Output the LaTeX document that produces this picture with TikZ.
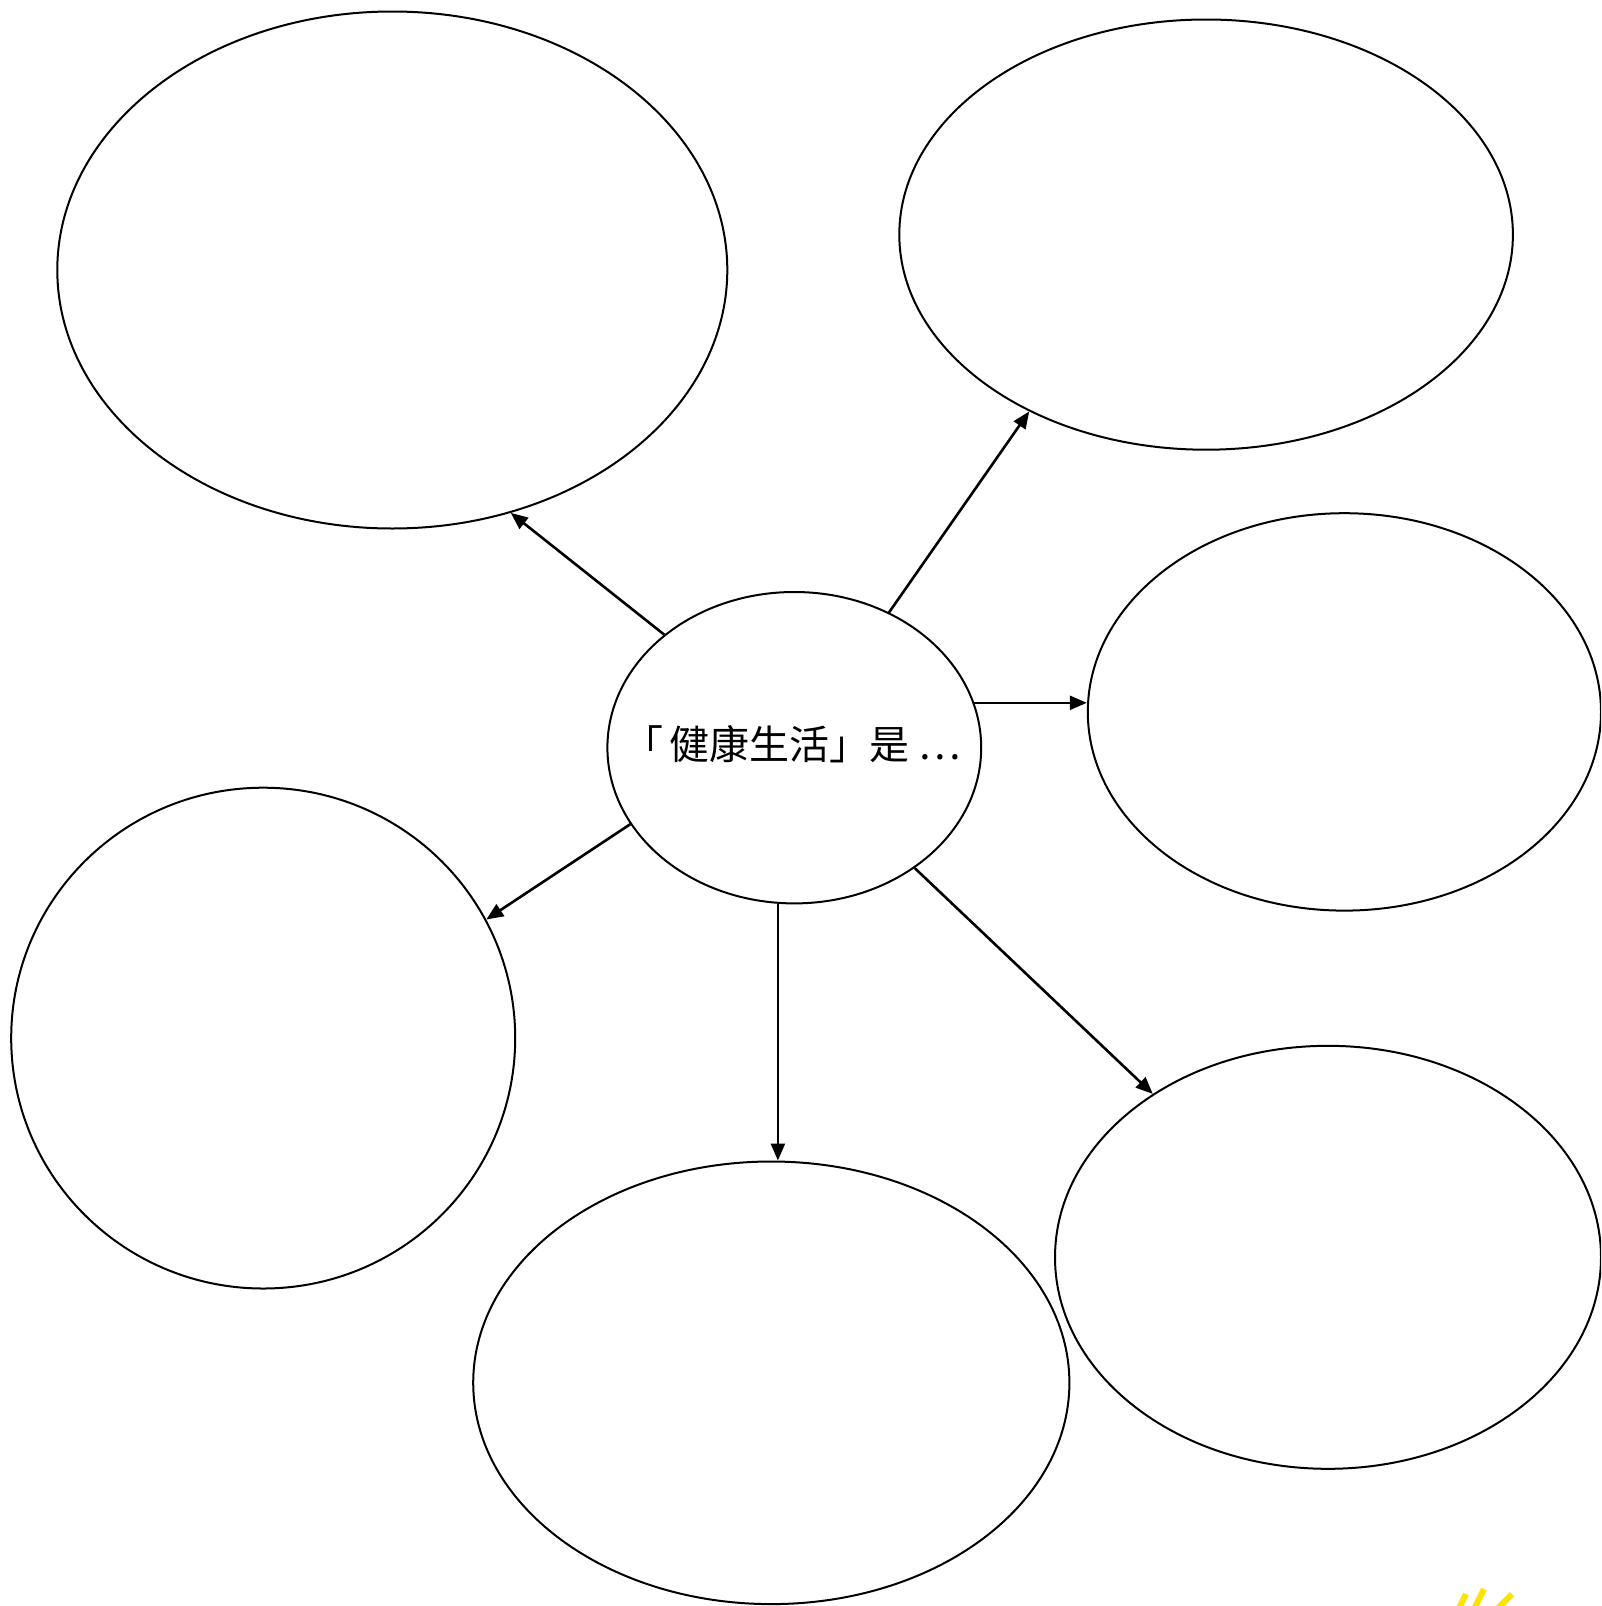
\documentclass[tikz,border=0pt]{standalone}
\usepackage{fontspec}
\newfontfamily\cjk{Noto Sans CJK TC}
\usetikzlibrary{shapes.geometric,arrows.meta}
\definecolor{markyellow}{RGB}{250,228,0}
\begin{document}
\begin{tikzpicture}[x=1pt,y=-1pt,
  bubble/.style={draw=black,line width=2pt,ellipse,inner sep=0pt},
  link/.style={draw=black,line width=2.6pt,-{Triangle[length=17pt,width=14pt]}}]
\useasboundingbox (0,0) rectangle (1601,1606);
\clip (0,0) rectangle (1601,1606);
\node[bubble,minimum width=670pt,minimum height=517pt] (tl) at (392.3,270) {};
\node[bubble,minimum width=613.6pt,minimum height=430.2pt] (tr) at (1206.1,234.6) {};
\node[bubble,minimum width=513.2pt,minimum height=397.4pt] (r) at (1344.4,711.9) {};
\node[bubble,minimum width=373.8pt,minimum height=311.4pt] (c) at (794.3,747.7) {};
\node[bubble,minimum width=504pt,minimum height=500.8pt] (l) at (263.2,1038.1) {};
\node[bubble,minimum width=596.2pt,minimum height=442.6pt] (b) at (771.3,1382.8) {};
\node[bubble,minimum width=546pt,minimum height=423pt] (br) at (1328,1257.3) {};
\node[font=\cjk\fontsize{40}{44}\selectfont,inner sep=0pt] (t) at (792,744) {「\,健康生活」是 …};
\draw[link] (c.139.2) -- (tl.296.9);
\draw[link] (c.55.6) -- (tr.225.6);
\draw[link] (c.14) -- (c.14 -| r.west);
\draw[link] (c.205.6) -- (l.28.1);
\draw[link] (c.264.3) -- (c.264.3 |- b.north);
\draw[link] (c.315.8) -- (br.137.1);
\coordinate (m1) at (1462,1602);
\coordinate (m2) at (1479,1599);
\coordinate (m3) at (1505,1600);
\draw[markyellow,line width=6pt] ([shift={(-4,8)}]m1) -- ([shift={(4,-8)}]m1);
\draw[markyellow,line width=6pt] ([shift={(-5,10)}]m2) -- ([shift={(5,-10)}]m2);
\draw[markyellow,line width=6pt] ([shift={(-7,8)}]m3) -- ([shift={(7,-6)}]m3);
\end{tikzpicture}
\end{document}
